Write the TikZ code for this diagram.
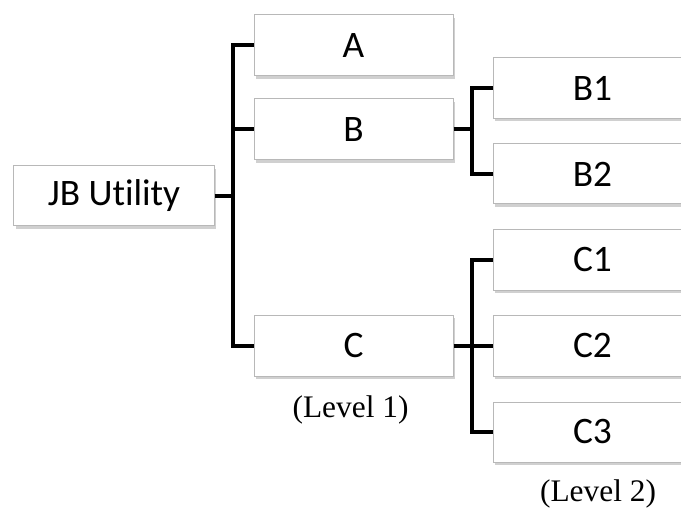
\documentclass[tikz,border=0pt]{standalone}
\usepackage{fontspec}
\setmainfont[Ligatures=NoCommon]{Carlito}
\newfontfamily\serifx{Liberation Serif}
\usetikzlibrary{shadows}
\begin{document}
\begin{tikzpicture}[x=1bp,y=-1bp,
  box/.style={draw=black!28, line width=1bp, fill=white, minimum width=199bp, minimum height=61bp,
    inner sep=0pt, font=\fontsize{37.5}{40}\selectfont,
    drop shadow={shadow xshift=2bp, shadow yshift=-3bp, opacity=0.3, fill=black!60}},
  conn/.style={line width=4bp, line join=miter, black},
  lvl/.style={fill=white, inner sep=0pt, font=\serifx\fontsize{31.5}{34}\selectfont}]
\clip (0,0) rectangle (681,511);
\fill[white] (0,0) rectangle (681,511);
\node[box, minimum width=200bp, minimum height=60bp] (JB) at (114,196) {JB Utility};
\node[box] (A) at (353.5,45.5) {A};
\node[box] (B) at (353.5,129.5) {B};
\node[box] (C) at (353.5,345.5) {C};
\node[box] (B1) at (592.5,88) {B1};
\node[box, minimum height=60bp] (B2) at (592.5,174) {B2};
\node[box, minimum height=60bp] (C1) at (592.5,260) {C1};
\node[box] (C2) at (592.5,345.5) {C2};
\node[box, minimum height=60bp] (C3) at (592.5,432) {C3};
\node[lvl, minimum width=183bp, minimum height=54bp] (L1) at (350.5,410) {(Level 1)};
\node[lvl, minimum width=200bp, minimum height=50bp] (L2) at (598,494) {(Level 2)};
\coordinate (s1) at (233,0);
\coordinate (s2) at (472,0);
\draw[conn] (A.west) -- (A.west -| s1) -- (C.west -| s1) -- (C.west);
\draw[conn] (B.west) -- (B.west -| s1);
\draw[conn] (JB.east) -- (JB.east -| s1);
\draw[conn] (B1.west) -- (B1.west -| s2) -- (B2.west -| s2) -- (B2.west);
\draw[conn] (B.east) -- (B.east -| s2);
\draw[conn] (C1.west) -- (C1.west -| s2) -- (C3.west -| s2) -- (C3.west);
\draw[conn] (C.east) -- (C2.west);
\end{tikzpicture}
\end{document}
